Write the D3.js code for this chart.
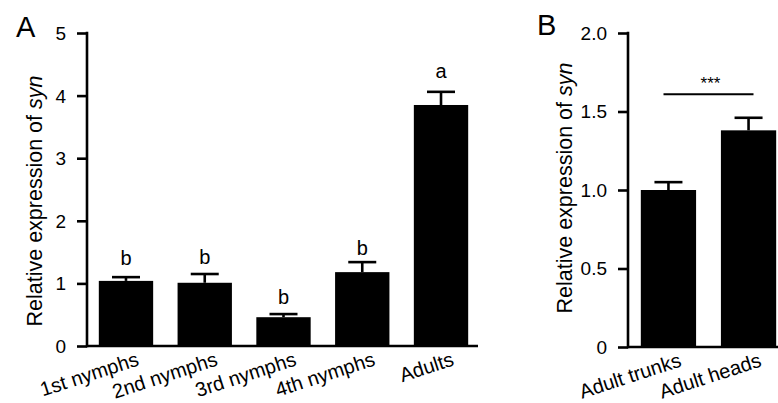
<!DOCTYPE html>
<html>
<head>
<meta charset="utf-8">
<script src="https://cdn.jsdelivr.net/npm/d3@7"></script>
<style>
  html, body { margin: 0; padding: 0; background: #fff; }
  svg text { font-family: "Liberation Sans", Arial, sans-serif; fill: #000; }
</style>
</head>
<body>
<svg id="chart" width="778" height="403"></svg>
<script>
// Panel A - developmental stages
const stagesA = ['1st nymphs', '2nd nymphs', '3rd nymphs', '4th nymphs', 'Adults'];
const meansA = [1.04, 1.01, 0.46, 1.18, 3.85];
const errA = [0.06, 0.14, 0.05, 0.16, 0.21];
const lettersA = ['b', 'b', 'b', 'b', 'a'];
const letterPosA = [1.29, 1.31, 0.67, 1.45, 4.28];
const ticksA = [0, 1, 2, 3, 4, 5];

// Panel B - adult tissues
const tissuesB = ['Adult trunks', 'Adult heads'];
const meansB = [1.00, 1.38];
const errB = [0.05, 0.08];
const ticksB = [0, 0.5, 1.0, 1.5, 2.0];
const sigB = '***';
const sigPosB = 1.61;

const svg = d3.select('#chart');

function drawPanel(opts) {
    const g = svg.append('g');

    const y = d3.scaleLinear().domain(opts.yDomain).range([opts.bottom, opts.top]);
    const x = d3.scaleBand()
        .domain(opts.cats)
        .range([opts.left, opts.right])
        .paddingInner(opts.padIn)
        .paddingOuter(opts.padOut);

    // bars
    g.selectAll('rect.bar')
        .data(opts.cats)
        .enter()
        .append('rect')
        .attr('class', 'bar')
        .attr('x', d => x(d))
        .attr('width', x.bandwidth())
        .attr('y', (d, i) => y(opts.means[i]))
        .attr('height', (d, i) => y(0) - y(opts.means[i]))
        .attr('fill', '#000');

    // error bars (upper only)
    const eb = g.selectAll('g.err')
        .data(opts.cats)
        .enter()
        .append('g')
        .attr('class', 'err')
        .attr('stroke', '#000')
        .attr('stroke-width', 2.6);
    eb.append('line')
        .attr('x1', d => x(d) + x.bandwidth() / 2)
        .attr('x2', d => x(d) + x.bandwidth() / 2)
        .attr('y1', (d, i) => y(opts.means[i]))
        .attr('y2', (d, i) => y(opts.means[i] + opts.errs[i]));
    eb.append('line')
        .attr('x1', d => x(d) + x.bandwidth() / 2 - 14)
        .attr('x2', d => x(d) + x.bandwidth() / 2 + 14)
        .attr('y1', (d, i) => y(opts.means[i] + opts.errs[i]))
        .attr('y2', (d, i) => y(opts.means[i] + opts.errs[i]));

    // y axis
    const yAxis = d3.axisLeft(y)
        .tickValues(opts.ticks)
        .tickFormat(opts.fmt)
        .tickSize(10)
        .tickPadding(11);
    const ya = g.append('g')
        .attr('transform', `translate(${opts.left},0)`)
        .call(yAxis);
    ya.select('.domain').remove();
    ya.append('line')
        .attr('x1', 0).attr('x2', 0)
        .attr('y1', y(opts.yDomain[1]) - 1.3)
        .attr('y2', y(0) + 1.3)
        .attr('stroke', '#000')
        .attr('stroke-width', 2.6);
    ya.selectAll('.tick line').attr('stroke', '#000').attr('stroke-width', 2.6);
    ya.selectAll('.tick text')
        .attr('font-size', 19)
        .attr('fill', '#000')
        .attr('dy', '0.34em');

    // x axis line
    g.append('line')
        .attr('x1', opts.left)
        .attr('x2', opts.axisEnd)
        .attr('y1', y(0))
        .attr('y2', y(0))
        .attr('stroke', '#000')
        .attr('stroke-width', 2.6);

    // rotated category labels
    g.selectAll('text.cat')
        .data(opts.cats)
        .enter()
        .append('text')
        .attr('class', 'cat')
        .attr('font-size', 20)
        .attr('text-anchor', 'end')
        .attr('transform', d => `translate(${x(d) + x.bandwidth() / 2 + 14},${y(0) + 19}) rotate(-18)`)
        .text(d => d);

    // y axis title
    const title = g.append('text')
        .attr('font-size', 21.5)
        .attr('text-anchor', 'middle')
        .attr('transform', `translate(${opts.titleX},${opts.titleY}) rotate(-90)`);
    title.append('tspan').text('Relative expression of ');
    title.append('tspan').attr('font-style', 'italic').text('syn');

    // panel letter
    g.append('text')
        .attr('x', opts.panelX)
        .attr('y', opts.panelY)
        .attr('font-size', 29)
        .text(opts.panel);

    return { g, x, y };
}

const A = drawPanel({
    panel: 'A', panelX: 16, panelY: 37,
    cats: stagesA, means: meansA, errs: errA,
    yDomain: [0, 5], ticks: ticksA, fmt: d3.format('d'),
    top: 33, bottom: 346, left: 87, right: 480, axisEnd: 478,
    padIn: 0.31, padOut: 0.15,
    titleX: 42, titleY: 201
});

// significance letters
A.g.selectAll('text.letter')
    .data(stagesA)
    .enter()
    .append('text')
    .attr('class', 'letter')
    .attr('font-size', 20)
    .attr('text-anchor', 'middle')
    .attr('x', d => A.x(d) + A.x.bandwidth() / 2)
    .attr('y', (d, i) => A.y(letterPosA[i]))
    .text((d, i) => lettersA[i]);

const B = drawPanel({
    panel: 'B', panelX: 537, panelY: 35,
    cats: tissuesB, means: meansB, errs: errB,
    yDomain: [0, 2], ticks: ticksB, fmt: d => d === 0 ? '0' : d3.format('.1f')(d),
    top: 33, bottom: 347, left: 628, right: 789, axisEnd: 790,
    padIn: 0.31, padOut: 0.16,
    titleX: 572, titleY: 188
});

// significance bracket
const mid = (B.x(tissuesB[0]) + B.x(tissuesB[1]) + B.x.bandwidth()) / 2;
B.g.append('line')
    .attr('x1', mid - 45)
    .attr('x2', mid + 45)
    .attr('y1', B.y(sigPosB))
    .attr('y2', B.y(sigPosB))
    .attr('stroke', '#000')
    .attr('stroke-width', 2);
B.g.append('text')
    .attr('x', mid + 2)
    .attr('y', B.y(sigPosB) - 5)
    .attr('font-size', 17)
    .attr('text-anchor', 'middle')
    .text(sigB);
</script>
</body>
</html>
